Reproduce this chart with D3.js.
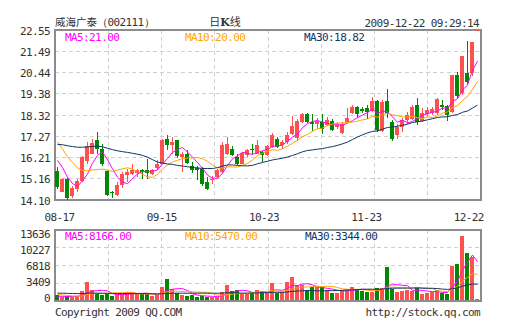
<!DOCTYPE html>
<html>
<head>
<meta charset="utf-8">
<script src="https://cdn.jsdelivr.net/npm/d3@7"></script>
<style>
  html, body { margin: 0; padding: 0; background: #fff; }
  svg { display: block; }
</style>
</head>
<body>
<svg id="chart" width="505" height="330"></svg>
<script>
// ---- data ----------------------------------------------------------------
const stockName = "威海广泰";
const stockCode = "（002111）";
const stamp = "2009-12-22 09:29:14";
const dateLabels = ["08-17", "09-15", "10-23", "11-23", "12-22"];
const priceTicks = [14.10, 15.16, 16.21, 17.27, 18.32, 19.38, 20.44, 21.49, 22.55];
const volumeTicks = [0, 3409, 6818, 10227, 13636];

// daily K-line, 2009-08-17 .. 2009-12-22
const open = [15.52,14.52,15.16,14.28,14.66,15.02,16.03,16.40,17.10,16.65,
  15.54,14.49,14.33,14.87,15.32,15.41,15.44,15.61,15.61,15.41,
  15.71,15.90,17.15,16.82,17.07,16.23,16.40,15.77,15.71,15.66,
  14.99,15.07,15.24,15.49,16.40,16.65,16.23,15.90,16.32,16.65,
  16.40,16.48,16.32,16.73,17.15,16.82,16.98,17.39,17.17,17.98,
  18.36,17.98,17.86,17.96,17.85,18.04,17.72,17.44,17.99,18.41,
  18.71,18.61,18.65,18.50,19.01,17.54,19.01,17.98,17.32,17.73,
  18.06,18.15,18.81,18.03,18.36,18.40,18.40,18.81,18.76,18.48,
  20.31,19.40,20.42,20.41,22.55];
const high = [15.74,15.20,15.18,14.82,15.16,16.27,16.98,17.15,17.48,16.90,
  15.57,14.57,14.99,15.49,15.66,15.90,15.66,15.66,16.15,15.66,
  16.07,17.15,17.32,17.23,17.07,16.47,16.60,15.98,15.77,15.72,
  15.24,15.27,15.66,16.98,17.23,16.77,16.40,16.48,16.65,16.87,
  17.07,16.53,16.82,17.43,17.23,17.07,17.48,18.26,18.15,18.40,
  18.40,18.35,18.16,18.36,18.21,18.15,17.96,17.98,18.65,18.81,
  18.76,18.73,18.81,19.23,19.06,19.06,19.64,18.06,17.86,18.20,
  18.48,18.81,19.15,18.65,18.70,18.73,19.15,19.06,18.81,20.31,
  20.47,21.26,22.02,21.97,22.55];
const low = [14.66,14.50,14.10,14.21,14.49,14.99,15.90,16.37,16.40,15.77,
  14.28,14.21,14.28,14.71,14.99,15.32,15.24,15.16,15.16,15.32,
  15.61,15.87,16.57,16.40,16.17,15.47,15.90,15.44,15.07,14.82,
  14.60,14.91,15.16,15.41,16.32,16.27,15.82,15.87,16.23,16.40,
  16.37,15.98,16.27,16.70,16.70,16.65,16.90,17.34,17.02,17.95,
  17.95,17.52,17.65,17.40,17.77,17.52,17.62,17.40,17.95,18.39,
  18.20,18.40,18.15,18.48,17.48,17.48,18.20,17.03,17.15,17.48,
  17.90,18.06,17.81,17.98,18.26,18.31,18.31,18.56,18.03,18.43,
  19.15,19.31,19.86,20.26,22.55];
const close = [14.77,15.16,14.21,14.71,15.02,16.23,16.77,16.93,16.62,15.90,
  14.33,14.45,14.87,15.41,15.49,15.61,15.57,15.49,15.44,15.57,
  15.90,17.07,16.82,16.98,16.28,16.40,15.93,15.57,15.61,14.91,
  14.66,15.16,15.57,16.82,16.87,16.32,15.90,16.45,16.57,16.57,
  16.82,16.32,16.77,17.32,16.73,16.98,17.32,17.79,18.04,18.36,
  17.98,17.86,18.01,17.65,18.10,17.59,17.85,17.90,18.16,18.71,
  18.36,18.51,18.48,19.03,17.57,18.98,18.40,17.15,17.73,18.10,
  18.31,18.73,17.98,18.40,18.56,18.60,19.10,18.70,18.31,20.29,
  19.27,21.26,19.95,21.97,22.55];
const volume = [1000,700,750,700,850,1900,3850,2050,1420,1060,
  1330,850,1200,1200,1630,1760,1200,1330,1330,900,
  1060,2760,4450,2270,1550,1060,850,1060,700,900,
  570,700,700,1760,3180,1970,2120,1270,1270,1420,
  2120,1970,1420,3670,1550,1760,3880,4950,3180,3180,
  2120,2690,2690,2690,2120,1450,1450,2160,2370,2870,
  2160,2020,1670,1670,2590,2590,7030,2370,1670,2020,
  2160,2020,2590,1310,1450,1600,2200,1450,1300,7320,
  7770,13636,10040,9174,210];

// sessions before 08-17, used only to seed the moving averages
const priorClose = [15.60,15.75,15.90,16.05,16.20,16.30,16.25,16.40,16.50,16.65,
  16.50,16.60,16.70,16.60,16.90,17.00,17.20,18.20,19.10,19.60,
  18.60,18.10,17.60,17.80,17.40,16.95,16.60,16.30,15.75];
const priorVolume = [1500,1700,1400,1600,1800,1500,1300,1700,1900,1600,
  1400,1500,1800,1600,1700,1300,1500,1700,1900,1600,
  2100,1700,1500,1400,1300,900,800,700,600];

const maPeriods = [5, 10, 30];
const maColors = ["#ff00ff", "#ffa500", "#0e3766"];

// ---- layout --------------------------------------------------------------
const L = 55, R = 481;
const mainTop = 30, mainBot = 200;
const volTop = 230, volBot = 301;
const fontMono = "'DejaVu Sans Mono', 'Liberation Mono', monospace";
const fontCJK = "'Noto Sans CJK SC', 'Noto Sans', sans-serif";
const textColor = "#333";
const upColor = "#ff5050", downColor = "#008800";

const svg = d3.select("#chart");
const n = close.length;

const x = d3.scaleBand().domain(d3.range(n)).range([L, L + 5 * n]).padding(0);
const y = d3.scaleLinear().domain([priceTicks[0], priceTicks[priceTicks.length - 1]]).range([mainBot, mainTop]);
const yv = d3.scaleLinear().domain([0, d3.max(volume)]).range([300, 236]);
const xDate = d3.scalePoint().domain(dateLabels).range([59.5, 468.7]);

function movingAverage(prior, values, period) {
  const all = prior.concat(values);
  const lead = prior.length;
  return values.map((_, k) => d3.mean(all.slice(k + lead - period + 1, k + lead + 1)));
}
const priceMA = maPeriods.map(p => movingAverage(priorClose, close, p));
const volMA = maPeriods.map(p => movingAverage(priorVolume, volume, p));

function mono(sel) {
  return sel.attr("font-family", fontMono).attr("font-size", 11)
    .attr("letter-spacing", -0.6).attr("fill", textColor);
}

// ---- header --------------------------------------------------------------
const head = svg.append("text").attr("x", 55).attr("y", 26)
  .attr("font-family", fontCJK).attr("font-size", 10.5).attr("fill", textColor);
head.append("tspan").text(stockName);
head.append("tspan").attr("font-family", fontMono).attr("font-size", 11)
  .attr("letter-spacing", -0.6).text(stockCode);

const kt = svg.append("text").attr("x", 225).attr("y", 26).attr("text-anchor", "middle")
  .attr("font-family", fontCJK).attr("font-size", 11).attr("fill", textColor);
kt.append("tspan").text("日");
kt.append("tspan").attr("font-weight", "bold").attr("font-family", "'DejaVu Serif', serif").text("K");
kt.append("tspan").text("线");

mono(svg.append("text")).attr("x", 479).attr("y", 26.5).attr("text-anchor", "end").text(stamp);

// ---- panels & grids ------------------------------------------------------
function panel(top, bot, hLines) {
  const g = svg.append("g");
  const vx = d3.range(1, 8).map(k => L + (R - L) * k / 8);
  g.selectAll(".gv").data(vx).join("line")
    .attr("x1", d => d).attr("x2", d => d).attr("y1", top).attr("y2", bot)
    .attr("stroke", "#d0d0d0").attr("stroke-dasharray", "4,3").attr("shape-rendering", "crispEdges");
  g.selectAll(".gh").data(hLines).join("line")
    .attr("x1", L).attr("x2", R).attr("y1", d => d).attr("y2", d => d)
    .attr("stroke", "#d0d0d0").attr("stroke-dasharray", "4,3").attr("shape-rendering", "crispEdges");
  g.append("rect").attr("x", L).attr("y", top).attr("width", R - L).attr("height", bot - top)
    .attr("fill", "none").attr("stroke", "#8c8c8c").attr("stroke-width", 2);
}
panel(mainTop, mainBot, priceTicks.slice(1, -1).map(y));
panel(volTop, volBot, d3.range(1, 4).map(k => volTop + (volBot - volTop) * k / 4));

// axis labels
svg.append("g").selectAll("text").data(priceTicks).join("text")
  .call(mono).attr("x", 50).attr("y", d => y(d) + 4.5).attr("text-anchor", "end")
  .text(d => d.toFixed(2));
svg.append("g").selectAll("text").data(volumeTicks).join("text")
  .call(mono).attr("x", 50).attr("y", d => yv(d) + 1.5).attr("text-anchor", "end")
  .text(d => d);
svg.append("g").selectAll("text").data(dateLabels).join("text")
  .call(mono).attr("x", d => xDate(d)).attr("y", 221).attr("text-anchor", "middle")
  .text(d => d);

// ---- candles -------------------------------------------------------------
const idx = d3.range(n);
const isUp = i => close[i] >= open[i];
const cg = svg.append("g").attr("shape-rendering", "crispEdges");
cg.selectAll(".wick").data(idx).join("rect")
  .attr("x", i => x(i) + 2).attr("width", 1)
  .attr("y", i => Math.round(y(high[i])))
  .attr("height", i => Math.max(1, Math.round(y(low[i])) - Math.round(y(high[i]))))
  .attr("fill", i => isUp(i) ? upColor : downColor);
cg.selectAll(".body").data(idx).join("rect")
  .attr("x", i => x(i)).attr("width", 4)
  .attr("y", i => Math.round(y(Math.max(open[i], close[i]))))
  .attr("height", i => Math.max(1, Math.round(y(Math.min(open[i], close[i]))) - Math.round(y(Math.max(open[i], close[i])))))
  .attr("fill", i => isUp(i) ? upColor : downColor);

// ---- volume bars ---------------------------------------------------------
svg.append("g").attr("shape-rendering", "crispEdges")
  .selectAll("rect").data(idx).join("rect")
  .attr("x", i => x(i)).attr("width", 4)
  .attr("y", i => Math.round(yv(volume[i])))
  .attr("height", i => Math.max(1, 300 - Math.round(yv(volume[i]))))
  .attr("fill", i => isUp(i) ? upColor : downColor);

// ---- moving averages -----------------------------------------------------
function drawMA(series, scale) {
  const line = d3.line().x((d, i) => x(i) + 2.5).y(d => scale(d));
  series.forEach((s, k) => {
    svg.append("path").datum(s).attr("d", line)
      .attr("fill", "none").attr("stroke", maColors[k]).attr("stroke-width", 1);
  });
}
drawMA(priceMA, y);
drawMA(volMA, yv);

// MA captions
const capX = [65, 185, 304];
maPeriods.forEach((p, k) => {
  mono(svg.append("text")).attr("x", capX[k]).attr("y", 40.5).attr("fill", maColors[k])
    .text(`MA${p}:${priceMA[k][n - 1].toFixed(2)}`);
  mono(svg.append("text")).attr("x", capX[k] + (k === 2 ? 1 : 0)).attr("y", 240).attr("fill", maColors[k])
    .text(`MA${p}:${volMA[k][n - 1].toFixed(2)}`);
});

// ---- footer --------------------------------------------------------------
mono(svg.append("text")).attr("x", 55).attr("y", 316).text("Copyright 2009 QQ.COM");
mono(svg.append("text")).attr("x", 480).attr("y", 316).attr("text-anchor", "end").text("http://stock.qq.com");
</script>
</body>
</html>
